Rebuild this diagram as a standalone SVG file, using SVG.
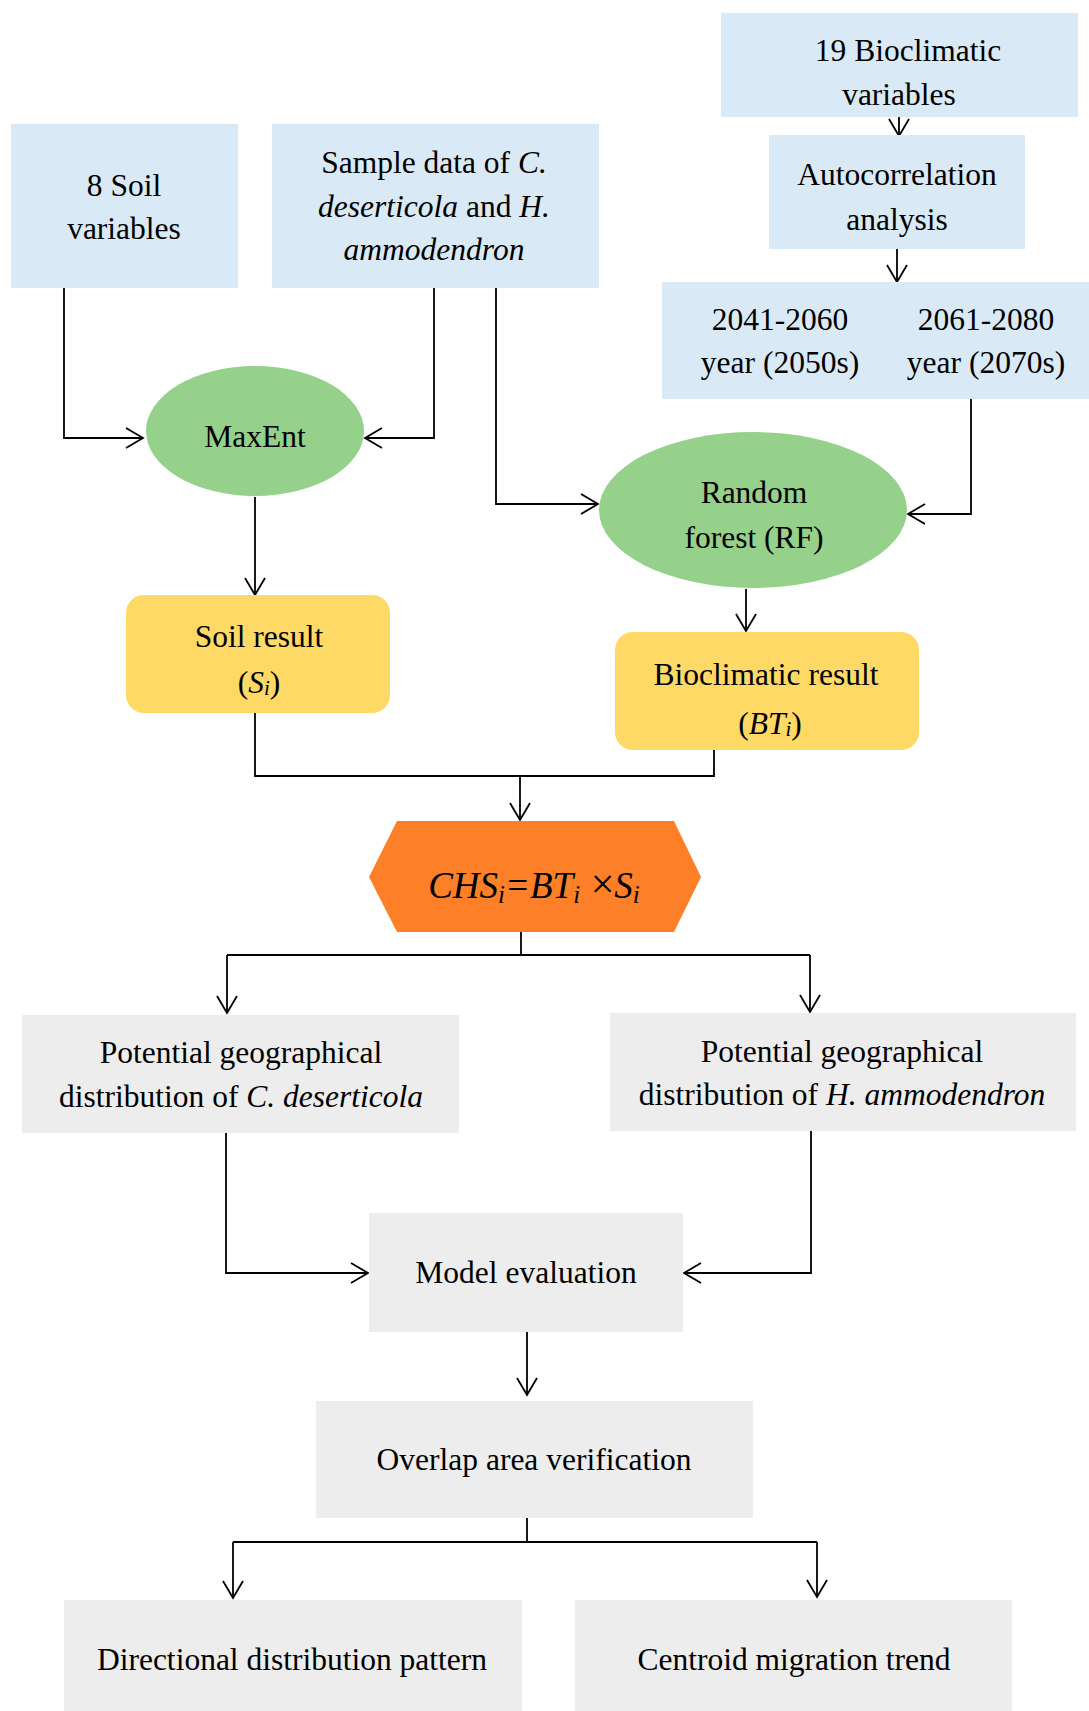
<svg xmlns="http://www.w3.org/2000/svg" width="1089" height="1711" viewBox="0 0 1089 1711">
<style>
.blue{fill:#DAE9F6}
.green{fill:#95D18A}
.yellow{fill:#FFD966}
.gray{fill:#EDEDED}
.orange{fill:#FD7F28}
text{font-family:"Liberation Serif","Times New Roman",serif;font-size:31.5px;fill:#000;text-anchor:middle}
.it{font-style:italic}
.sub{font-size:21px}
.conn{fill:none;stroke:#000;stroke-width:1.8}
</style>
<defs>
<marker id="arr" markerUnits="userSpaceOnUse" markerWidth="24" markerHeight="24" viewBox="-20 -12 24 24" refX="0" refY="0" orient="auto">
<path d="M-17,-10 L0,0 L-17,10" fill="none" stroke="#000" stroke-width="1.8"/>
</marker>
</defs>
<rect width="1089" height="1711" fill="#fff"/>

<g id="connectors">
<path class="conn" d="M64,288 V438 H143" marker-end="url(#arr)"/>
<path class="conn" d="M434,288 V438 H365" marker-end="url(#arr)"/>
<path class="conn" d="M496,288 V504 H598" marker-end="url(#arr)"/>
<path class="conn" d="M899,117 V136" marker-end="url(#arr)"/>
<path class="conn" d="M897,249 V282" marker-end="url(#arr)"/>
<path class="conn" d="M971,399 V514 H908" marker-end="url(#arr)"/>
<path class="conn" d="M255,497 V595" marker-end="url(#arr)"/>
<path class="conn" d="M746,589 V631" marker-end="url(#arr)"/>
<path class="conn" d="M255,713 V776 H714 V750"/>
<path class="conn" d="M520,776 V820" marker-end="url(#arr)"/>
<path class="conn" d="M521,932 V955"/>
<path class="conn" d="M227,955 H810"/>
<path class="conn" d="M227,955 V1013" marker-end="url(#arr)"/>
<path class="conn" d="M810,955 V1012" marker-end="url(#arr)"/>
<path class="conn" d="M226,1133 V1273 H368" marker-end="url(#arr)"/>
<path class="conn" d="M811,1131 V1273 H684" marker-end="url(#arr)"/>
<path class="conn" d="M527,1332 V1395" marker-end="url(#arr)"/>
<path class="conn" d="M527,1518 V1542"/>
<path class="conn" d="M233,1542 H817"/>
<path class="conn" d="M233,1542 V1598" marker-end="url(#arr)"/>
<path class="conn" d="M817,1542 V1597" marker-end="url(#arr)"/>
</g>

<g id="n-bioclim">
<rect class="blue" x="721" y="13" width="357" height="104"/>
<text x="908" y="61">19 Bioclimatic</text>
<text x="899" y="105">variables</text>
</g>

<g id="n-autocorr">
<rect class="blue" x="769" y="135" width="256" height="114"/>
<text x="897" y="185">Autocorrelation</text>
<text x="897" y="230">analysis</text>
</g>

<g id="n-years">
<rect class="blue" x="662" y="282" width="427" height="117"/>
<text x="780" y="330">2041-2060</text>
<text x="780" y="373">year (2050s)</text>
<text x="986" y="330">2061-2080</text>
<text x="986" y="373">year (2070s)</text>
</g>

<g id="n-soil">
<rect class="blue" x="11" y="124" width="227" height="164"/>
<text x="124" y="196">8 Soil</text>
<text x="124" y="239">variables</text>
</g>

<g id="n-sample">
<rect class="blue" x="272" y="124" width="327" height="164"/>
<text x="434" y="173">Sample data of <tspan class="it">C.</tspan></text>
<text x="434" y="217"><tspan class="it">deserticola</tspan> and <tspan class="it">H.</tspan></text>
<text x="434" y="260" class="it">ammodendron</text>
</g>

<g id="n-maxent">
<ellipse class="green" cx="255" cy="431" rx="109" ry="65"/>
<text x="255" y="447">MaxEnt</text>
</g>

<g id="n-rf">
<ellipse class="green" cx="753" cy="510" rx="154" ry="78"/>
<text x="754" y="503">Random</text>
<text x="754" y="548">forest (RF)</text>
</g>

<g id="n-soilresult">
<rect class="yellow" x="126" y="595" width="264" height="118" rx="18"/>
<text x="259" y="647">Soil result</text>
<text x="259" y="693">(<tspan class="it">S</tspan><tspan class="it sub" dy="2">i</tspan><tspan dy="-2">)</tspan></text>
</g>

<g id="n-bioresult">
<rect class="yellow" x="615" y="632" width="304" height="118" rx="18"/>
<text x="766" y="685">Bioclimatic result</text>
<text x="770" y="734">(<tspan class="it">BT</tspan><tspan class="it sub" dy="2">i</tspan><tspan dy="-2">)</tspan></text>
</g>

<g id="n-chs">
<polygon class="orange" points="369,877 397,821 674,821 701,877 674,932 397,932"/>
<text x="534" y="898" class="it" style="font-size:37px">CHS<tspan style="font-size:25px" dy="5">i</tspan><tspan dy="-5">=BT</tspan><tspan style="font-size:25px" dy="5">i</tspan><tspan dy="-5" style="font-style:normal;font-size:42px;font-weight:300"> ×</tspan><tspan>S</tspan><tspan style="font-size:25px" dy="5">i</tspan></text>
</g>

<g id="n-distc">
<rect class="gray" x="22" y="1015" width="437" height="118"/>
<text x="241" y="1063">Potential geographical</text>
<text x="241" y="1107">distribution of <tspan class="it">C. deserticola</tspan></text>
</g>

<g id="n-disth">
<rect class="gray" x="610" y="1013" width="466" height="118"/>
<text x="842" y="1062">Potential geographical</text>
<text x="842" y="1105">distribution of <tspan class="it">H. ammodendron</tspan></text>
</g>

<g id="n-model">
<rect class="gray" x="369" y="1213" width="314" height="119"/>
<text x="526" y="1283">Model evaluation</text>
</g>

<g id="n-overlap">
<rect class="gray" x="316" y="1401" width="437" height="117"/>
<text x="534" y="1470">Overlap area verification</text>
</g>

<g id="n-directional">
<rect class="gray" x="64" y="1600" width="458" height="111"/>
<text x="292" y="1670">Directional distribution pattern</text>
</g>

<g id="n-centroid">
<rect class="gray" x="575" y="1600" width="437" height="111"/>
<text x="794" y="1670">Centroid migration trend</text>
</g>
</svg>
